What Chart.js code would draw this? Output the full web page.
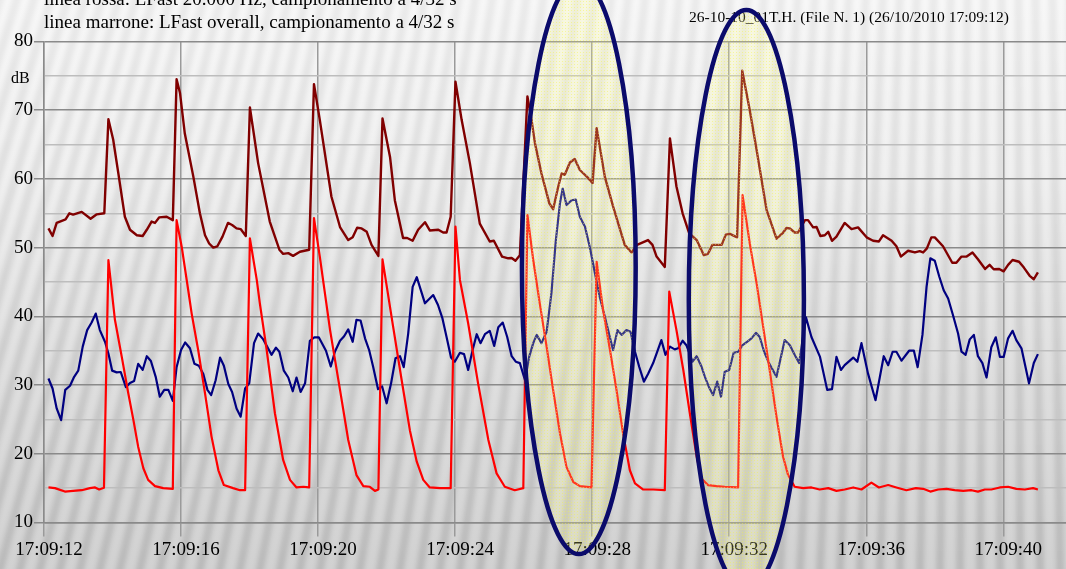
<!DOCTYPE html>
<html>
<head>
<meta charset="utf-8">
<script src="https://cdn.jsdelivr.net/npm/chart.js@4.4.1/dist/chart.umd.min.js"></script>
<style>
  html, body { margin: 0; padding: 0; background: #e6e6e6; overflow: hidden; }
  canvas { display: block; }
</style>
</head>
<body>
<canvas id="chart" width="1066" height="569"></canvas>
<script>
// Seconds after 17:09:12 and levels in dB (samples every 4/32 s)
const overallTimes = [
  0.13,0.25,0.37,0.52,0.63,0.74,0.85,1.10,1.36,1.54,
  1.76,1.88,2.02,2.17,2.36,2.51,2.71,2.88,3.00,3.14,
  3.24,3.36,3.58,3.76,3.87,3.97,4.11,4.36,4.55,4.70,
  4.82,4.94,5.06,5.21,5.37,5.49,5.62,5.74,5.89,6.01,
  6.25,6.59,6.87,6.98,7.13,7.27,7.47,7.74,7.88,8.05,
  8.39,8.64,8.88,9.01,9.14,9.27,9.42,9.56,9.76,9.88,
  10.10,10.24,10.48,10.60,10.76,10.92,11.12,11.26,11.51,11.65,
  11.75,11.87,12.01,12.19,12.43,12.72,13.01,13.13,13.37,13.55,
  13.65,13.76,13.89,14.11,14.23,14.33,14.52,14.75,14.86,15.01,
  15.11,15.20,15.35,15.49,15.64,15.85,16.01,16.13,16.37,16.61,
  16.95,17.15,17.31,17.63,17.76,17.88,18.12,18.27,18.46,18.64,
  18.83,19.05,19.26,19.38,19.51,19.78,19.90,20.02,20.23,20.38,
  20.60,20.80,21.09,21.38,21.56,21.67,21.77,21.91,22.01,22.21,
  22.30,22.45,22.55,22.66,22.79,22.89,23.00,23.13,23.37,23.57,
  23.76,24.01,24.20,24.37,24.49,24.74,24.88,25.01,25.22,25.42,
  25.56,25.66,25.77,25.90,26.00,26.24,26.51,26.63,26.78,26.93,
  27.10,27.26,27.47,27.60,27.72,27.88,28.01,28.14,28.27,28.46,
  28.60,28.77,28.89,29.01
];
const overallDb = [
  52.8,51.7,53.6,53.9,54.1,55.0,54.8,55.2,54.2,54.85,
  55.0,68.7,65.7,60.8,54.5,52.6,51.8,51.7,52.6,53.8,
  53.6,54.4,54.5,54.0,74.5,72.5,66.6,60.3,55.0,51.8,
  50.6,50.0,50.2,51.6,53.6,53.3,52.8,52.7,51.7,70.4,
  62.3,53.8,49.7,49.1,49.2,48.8,49.4,49.7,73.8,68.6,
  57.4,53.0,51.1,51.5,52.9,52.8,52.3,50.4,48.8,68.8,
  63.2,56.9,51.4,51.4,51.0,52.6,53.7,52.5,52.6,52.2,
  52.2,54.5,74.15,68.6,62.3,53.5,50.9,51.0,48.7,48.45,
  48.5,48.1,48.9,72.0,68.6,65.2,60.8,56.45,55.6,58.9,
  60.8,60.6,62.4,62.9,61.3,60.3,59.4,67.4,60.3,56.0,
  50.4,49.3,50.4,51.1,50.4,48.7,47.2,65.9,58.9,55.0,
  52.1,51.1,48.9,49.1,50.4,50.4,51.9,52.0,51.5,75.75,
  70.0,64.2,55.5,51.3,52.1,52.85,52.8,52.2,52.2,54.0,
  54.0,52.95,53.0,51.7,51.8,52.3,51.0,51.6,53.6,52.7,
  52.95,51.5,51.0,50.9,51.8,51.0,50.2,48.7,49.55,49.3,
  49.5,49.3,49.9,51.5,51.5,50.2,47.8,47.8,48.7,48.7,
  49.3,48.3,46.9,47.5,46.85,46.9,46.55,47.5,48.2,47.95,
  47.1,45.9,45.4,46.4
];

const lowBandTimes = [
  0.13,0.25,0.37,0.50,0.62,0.76,0.88,1.00,1.13,1.26,
  1.39,1.51,1.63,1.78,1.88,1.99,2.12,2.24,2.39,2.51,
  2.63,2.75,2.88,3.00,3.12,3.26,3.38,3.51,3.63,3.76,
  3.87,4.00,4.12,4.26,4.39,4.52,4.65,4.77,4.88,5.01,
  5.14,5.25,5.38,5.49,5.62,5.74,5.87,5.99,6.13,6.25,
  6.40,6.64,6.77,6.87,7.00,7.13,7.26,7.37,7.49,7.62,
  7.76,7.89,8.02,8.23,8.37,8.49,8.64,8.76,8.88,9.01,
  9.12,9.24,9.37,9.49,9.61,9.75,9.87,10.00,10.13,10.26,
  10.39,10.50,10.63,10.76,10.88,11.12,11.36,11.50,11.63,11.75,
  11.88,11.99,12.14,12.26,12.38,12.51,12.63,12.74,12.87,13.01,
  13.14,13.26,13.39,13.52,13.65,13.77,13.89,14.04,14.16,14.28,
  14.38,14.52,14.67,14.81,14.94,15.06,15.14,15.25,15.40,15.52,
  15.64,15.79,15.93,16.08,16.22,16.37,16.50,16.61,16.74,16.86,
  17.00,17.12,17.25,17.37,17.51,17.63,17.78,17.90,18.02,18.14,
  18.27,18.41,18.51,18.64,18.75,18.93,19.05,19.19,19.29,19.41,
  19.53,19.65,19.76,19.87,20.00,20.13,20.26,20.39,20.52,20.65,
  20.78,20.89,21.02,21.16,21.38,21.62,21.77,21.91,22.04,22.24,
  22.40,22.65,22.86,23.00,23.13,23.26,23.37,23.62,23.74,23.86,
  24.05,24.27,24.51,24.64,24.77,24.88,25.03,25.25,25.39,25.50,
  25.64,25.76,25.87,26.00,26.13,26.26,26.39,26.53,26.68,26.78,
  26.90,27.02,27.14,27.26,27.39,27.51,27.65,27.78,27.90,28.01,
  28.14,28.27,28.38,28.53,28.75,28.89,29.01
];
const lowBandDb = [
  30.95,29.5,26.6,24.9,29.3,29.9,31.2,32.1,35.6,38.0,
  39.1,40.4,38.0,36.3,34.6,32.1,31.85,31.9,29.7,30.3,
  30.6,33.1,32.2,34.2,33.5,31.2,28.3,29.3,29.3,27.7,
  32.6,35.1,36.2,35.35,33.1,32.8,31.6,29.3,28.55,30.7,
  34.0,32.8,30.15,29.0,26.6,25.4,29.5,30.25,36.1,37.5,
  36.65,34.4,35.45,34.85,32.1,31.1,29.1,31.1,29.0,30.25,
  36.45,36.95,36.95,35.0,32.7,34.85,36.45,37.1,38.1,36.3,
  39.5,39.4,36.8,35.1,32.6,29.4,29.8,27.35,30.25,33.9,
  34.2,32.6,37.5,44.3,45.7,41.9,43.1,41.65,39.7,37.0,
  34.0,33.4,34.7,34.5,32.2,35.1,37.4,36.1,37.4,37.9,
  35.7,38.4,39.1,37.0,34.2,33.4,33.2,30.7,34.1,36.1,
  37.3,36.1,37.75,43.35,51.1,56.45,58.6,56.2,56.9,57.0,
  54.5,53.05,50.1,46.3,42.85,39.95,37.3,35.1,38.0,37.3,
  38.0,37.75,34.85,32.7,30.5,31.6,33.2,34.85,36.55,34.4,
  35.6,35.2,35.35,36.45,35.8,33.4,34.2,32.7,31.2,29.7,
  28.55,30.5,28.3,31.95,32.2,34.7,34.85,35.8,36.3,36.8,
  37.6,37.0,34.85,33.2,31.2,36.55,35.8,34.4,33.2,39.85,
  37.0,34.1,29.3,29.4,34.1,32.2,32.9,34.0,33.4,36.1,
  31.7,27.8,34.2,32.9,34.85,34.85,33.55,35.0,35.0,32.6,
  37.3,44.3,48.45,48.1,45.8,43.8,42.6,40.2,37.5,34.85,
  34.4,36.65,37.3,34.2,33.2,31.1,35.5,36.95,34.1,34.1,
  36.8,37.9,36.55,35.35,30.25,33.2,34.5
];

const highBandTimes = [
  0.13,0.32,0.61,0.85,1.10,1.34,1.49,1.61,1.75,1.88,
  2.07,2.27,2.46,2.61,2.75,2.90,3.04,3.24,3.48,3.76,
  3.87,4.02,4.21,4.31,4.50,4.70,4.89,5.09,5.25,5.52,
  5.72,5.87,6.01,6.21,6.30,6.50,6.74,6.98,7.18,7.37,
  7.57,7.74,7.88,8.05,8.35,8.64,8.88,9.12,9.32,9.51,
  9.66,9.76,9.88,10.19,10.44,10.68,10.88,11.07,11.26,11.56,
  11.87,12.01,12.14,12.38,12.67,12.97,13.21,13.45,13.74,13.99,
  14.11,14.28,14.47,14.67,14.86,15.06,15.25,15.45,15.64,15.98,
  16.13,16.32,16.52,16.71,16.90,17.10,17.25,17.49,17.78,18.12,
  18.25,18.46,18.66,18.85,19.05,19.19,19.38,19.63,19.87,20.26,
  20.39,20.60,20.80,20.99,21.18,21.38,21.57,21.72,21.91,22.16,
  22.40,22.64,22.89,23.13,23.37,23.62,23.86,24.15,24.37,24.64,
  24.88,25.17,25.45,25.66,25.87,26.10,26.34,26.58,26.83,27.07,
  27.26,27.46,27.65,27.90,28.14,28.38,28.63,28.87,29.01
];
const highBandDb = [
  15.1,15.0,14.5,14.6,14.7,15.0,15.1,14.8,15.05,48.2,
  39.5,34.1,28.8,24.9,21.0,17.9,16.2,15.3,15.0,14.9,
  54.0,50.1,43.8,40.4,35.1,28.8,22.5,17.6,15.45,15.0,
  14.7,14.7,51.35,45.3,41.9,35.1,25.9,19.1,16.2,15.1,
  15.2,15.1,54.3,48.7,38.0,29.3,22.0,16.9,15.3,15.2,
  14.6,14.8,48.3,38.5,30.7,23.4,18.85,16.2,15.1,15.0,
  15.0,53.05,45.3,39.0,30.25,22.0,17.15,15.2,14.7,15.0,
  54.75,48.2,41.9,35.6,29.3,23.0,18.1,15.9,15.3,15.1,
  47.95,40.9,35.1,29.3,23.0,17.6,15.7,14.8,14.8,14.7,
  43.6,38.0,32.2,25.9,19.6,16.4,15.45,15.3,15.2,15.1,
  57.65,50.6,44.8,38.5,32.2,25.4,19.6,16.9,15.2,15.0,
  15.1,14.8,15.0,14.6,14.8,15.1,14.8,15.8,15.1,15.45,
  15.1,14.7,15.0,14.9,14.5,14.8,14.9,14.7,14.6,14.7,
  14.5,14.8,14.8,15.1,15.2,14.9,14.8,15.0,14.8
];

// Axis ticks (seconds after 17:09:12) and labels
const timeTicks = [0, 4, 8, 12, 16, 20, 24, 28];
const timeLabels = ['17:09:12','17:09:16','17:09:20','17:09:24','17:09:28','17:09:32','17:09:36','17:09:40'];

const headerLines = [
  'linea rossa: LFast 20.000 Hz, campionamento a 4/32 s',
  'linea marrone: LFast overall, campionamento a 4/32 s'
];
const fileLabel = '26-10-10_01T.H. (File N. 1) (26/10/2010 17:09:12)';

// Highlighted events: centre time (s), centre level (dB), half-width (s), half-height (dB)
const highlights = [
  { t: 15.61, db: 47.2, dt: 1.66, ddb: 41.8 },
  { t: 20.50, db: 42.4, dt: 1.68, ddb: 42.2 }
];

const pairs = (ts, vs) => ts.map((t, i) => ({ x: t, y: vs[i] }));
const SERIF = '"Liberation Serif", "Times New Roman", serif';

// Backdrop: light-to-grey gradient with a soft fan of stripes
const backdrop = {
  id: 'backdrop',
  beforeDraw(chart) {
    const { ctx, width: w, height: h } = chart;
    ctx.save();
    const g = ctx.createLinearGradient(0, 0, 0, h);
    g.addColorStop(0, '#f7f7f7');
    g.addColorStop(0.3, '#f0f0f0');
    g.addColorStop(0.65, '#dfdfdf');
    g.addColorStop(1, '#d1d1d1');
    ctx.fillStyle = g;
    ctx.fillRect(0, 0, w, h);

    const sg = ctx.createLinearGradient(0, 0, 0, h);
    sg.addColorStop(0, 'rgba(0,0,0,0.05)');
    sg.addColorStop(0.5, 'rgba(0,0,0,0.08)');
    sg.addColorStop(1, 'rgba(0,0,0,0.11)');
    ctx.filter = 'blur(2px)';
    ctx.strokeStyle = sg;
    ctx.lineWidth = 8;
    const fx = 1010, fy = -3200;
    for (let xb = -300; xb < w + 60; xb += 20) {
      ctx.beginPath();
      const ex = fx + (xb - fx) * (h + 40 - fy) / (h - fy);
      ctx.moveTo(fx + (xb - fx) * (-40 - fy) / (h - fy), -40);
      ctx.lineTo(ex, h + 40);
      ctx.stroke();
    }
    ctx.restore();
  }
};

function dotPattern(ctx) {
  const c = document.createElement('canvas');
  c.width = 3; c.height = 3;
  const p = c.getContext('2d');
  p.fillStyle = 'rgba(255,255,150,0.22)';
  p.fillRect(0, 0, 3, 3);
  p.fillStyle = 'rgba(245,245,70,0.45)';
  p.fillRect(1, 1, 1, 1);
  return ctx.createPattern(c, 'repeat');
}

// Header texts and the highlighted ellipses
const annotations = {
  id: 'annotations',
  afterDatasetsDraw(chart) {
    const { ctx, scales: { x, y } } = chart;
    ctx.save();
    ctx.fillStyle = '#000';
    ctx.textBaseline = 'alphabetic';
    ctx.textAlign = 'left';
    ctx.font = '19px ' + SERIF;
    ctx.fillText(headerLines[0], 44, 4.5);
    ctx.fillText(headerLines[1], 44, 27.5);
    ctx.font = '15.5px ' + SERIF;
    ctx.fillText(fileLabel, 689, 21.5);
    ctx.font = '16px ' + SERIF;
    ctx.fillText('dB', 11, 82.5);

    const pat = dotPattern(ctx);
    highlights.forEach(hl => {
      const cx = x.getPixelForValue(hl.t);
      const cy = y.getPixelForValue(hl.db);
      const rx = Math.abs(x.getPixelForValue(hl.t + hl.dt) - cx);
      const ry = Math.abs(y.getPixelForValue(hl.db + hl.ddb) - cy);
      ctx.beginPath();
      ctx.ellipse(cx, cy, rx, ry, 0, 0, Math.PI * 2);
      ctx.fillStyle = pat;
      ctx.fill();
      ctx.lineWidth = 4.5;
      ctx.strokeStyle = '#0b0b6b';
      ctx.stroke();
    });
    ctx.restore();
  }
};

new Chart(document.getElementById('chart'), {
  type: 'line',
  data: {
    datasets: [
      { label: 'LFast overall', data: pairs(overallTimes, overallDb), borderColor: '#800000', borderWidth: 2.4 },
      { label: 'LFast 20.000 Hz', data: pairs(highBandTimes, highBandDb), borderColor: '#ff0000', borderWidth: 2.2 },
      { label: 'LFast', data: pairs(lowBandTimes, lowBandDb), borderColor: '#000080', borderWidth: 2.2 }
    ]
  },
  options: {
    responsive: false,
    devicePixelRatio: 1,
    animation: false,
    layout: { padding: { top: 41.5, right: 0, left: 0, bottom: 0 } },
    elements: { point: { radius: 0 }, line: { tension: 0, borderJoinStyle: 'round' } },
    plugins: { legend: { display: false }, tooltip: { enabled: false } },
    scales: {
      x: {
        type: 'linear',
        min: 0,
        max: 29.83,
        afterBuildTicks: s => { s.ticks = timeTicks.map(v => ({ value: v })); },
        afterFit: s => { s.height = 46.5; },
        ticks: {
          autoSkip: false,
          maxRotation: 0,
          labelOffset: 5,
          padding: 2,
          color: '#000',
          font: { family: SERIF, size: 19 },
          callback: v => timeLabels[timeTicks.indexOf(v)] ?? ''
        },
        grid: { color: '#9a9a9a', lineWidth: 1.5, tickLength: 14, tickColor: '#9a9a9a' },
        border: { color: '#8a8a8a', width: 1.5 }
      },
      y: {
        min: 10,
        max: 80,
        afterFit: s => { s.width = 44; },
        ticks: {
          stepSize: 5,
          padding: 1,
          color: '#000',
          font: { family: SERIF, size: 19 },
          callback: v => (v % 10 === 0 ? v : '')
        },
        grid: {
          lineWidth: 1.5,
          tickLength: 10,
          color: c => (c.tick && c.tick.value % 10 === 0 ? '#8a8a8a' : '#bdbdbd'),
          tickColor: c => (c.tick && c.tick.value % 10 === 0 ? '#8a8a8a' : 'rgba(0,0,0,0)')
        },
        border: { color: '#8a8a8a', width: 1.5 }
      }
    }
  },
  plugins: [backdrop, annotations]
});
</script>
</body>
</html>
